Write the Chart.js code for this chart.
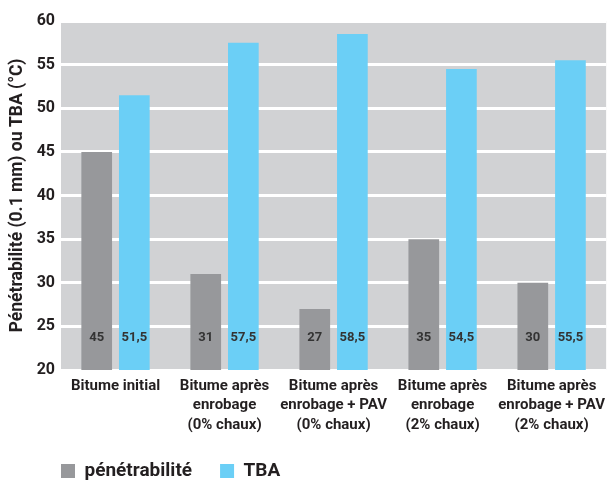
<!DOCTYPE html>
<html>
<head>
<meta charset="utf-8">
<script src="https://cdn.jsdelivr.net/npm/chart.js@4/dist/chart.umd.min.js"></script>
<style>
  html, body { margin: 0; padding: 0; background: #fff; }
  #wrap { width: 611px; height: 481px; }
</style>
</head>
<body>
<div id="wrap"><canvas id="chart"></canvas></div>
<script>
var categories = [
    'Bitume initial',
    ['Bitume après', 'enrobage', '(0% chaux)'],
    ['Bitume après', 'enrobage + PAV', '(0% chaux)'],
    ['Bitume après', 'enrobage', '(2% chaux)'],
    ['Bitume après', 'enrobage + PAV', '(2% chaux)']
];
var penetrabilite = [45, 31, 27, 35, 30];
var tba = [51.5, 57.5, 58.5, 54.5, 55.5];
var tbaLabels = ['51,5', '57,5', '58,5', '54,5', '55,5'];
var penLabels = ['45', '31', '27', '35', '30'];

var FONT = 'Roboto, "Open Sans", sans-serif';
var TEXT = '#231f20';
var LEGEND_SIZE = 19;

// grey plot background behind the grid
var plotBackground = {
    id: 'plotBackground',
    beforeDraw: function (chart) {
        var a = chart.chartArea;
        var ctx = chart.ctx;
        ctx.save();
        ctx.fillStyle = '#d1d2d4';
        ctx.fillRect(a.left, a.top, a.right - a.left, a.bottom - a.top);
        ctx.restore();
    }
};

// value labels near the bottom of each bar
var barLabels = {
    id: 'barLabels',
    afterDatasetsDraw: function (chart) {
        var ctx = chart.ctx;
        var yScale = chart.scales.y;
        var texts = [penLabels, tbaLabels];
        ctx.save();
        ctx.font = 'bold 13px ' + FONT;
        ctx.fillStyle = '#333333';
        ctx.textAlign = 'center';
        ctx.textBaseline = 'middle';
        chart.data.datasets.forEach(function (ds, i) {
            chart.getDatasetMeta(i).data.forEach(function (bar, j) {
                ctx.fillText(texts[i][j], bar.x, yScale.getPixelForValue(20) - 32);
            });
        });
        ctx.restore();
    }
};

// push the legend to the left under the plot
var legendPlace = {
    id: 'legendPlace',
    afterLayout: function (chart) {
        var lg = chart.legend;
        var pad = lg.options.labels.padding;
        lg.left = chart.chartArea.left - pad;
        lg.top = 464 - pad - (LEGEND_SIZE - 14) / 2;
    }
};

new Chart(document.getElementById('chart'), {
    type: 'bar',
    data: {
        labels: categories,
        datasets: [{
            label: 'pénétrabilité',
            data: penetrabilite,
            backgroundColor: '#97989b'
        }, {
            label: 'TBA',
            data: tba,
            backgroundColor: '#6bcff6'
        }]
    },
    options: {
        responsive: true,
        maintainAspectRatio: false,
        animation: false,
        layout: { padding: { top: 21, right: 0, left: 0, bottom: -16.5 } },
        datasets: {
            bar: { categoryPercentage: 0.69, barPercentage: 0.816 }
        },
        plugins: {
            tooltip: { enabled: false },
            legend: {
                position: 'bottom',
                align: 'start',
                labels: {
                    boxWidth: 14,
                    boxHeight: 14,
                    padding: 28,
                    color: TEXT,
                    font: { family: FONT, size: LEGEND_SIZE, weight: 'bold' }
                }
            }
        },
        scales: {
            x: {
                grid: { display: false, drawTicks: false },
                border: { display: false },
                ticks: {
                    color: TEXT,
                    padding: 6,
                    maxRotation: 0,
                    autoSkip: false,
                    font: { family: FONT, size: 15, weight: 'bold', lineHeight: 1.3 }
                }
            },
            y: {
                min: 20,
                max: 60,
                ticks: {
                    stepSize: 5,
                    color: TEXT,
                    padding: 6,
                    font: { family: FONT, size: 16, weight: 'bold' }
                },
                grid: { color: '#ffffff', lineWidth: 3, drawTicks: false },
                border: { display: false },
                title: {
                    display: true,
                    text: 'Pénétrabilité (0.1 mm) ou TBA (°C)',
                    color: TEXT,
                    padding: { top: 7, bottom: 0 },
                    font: { family: FONT, size: 17.5, weight: 'bold' }
                },
                afterFit: function (axis) { axis.width = 61; }
            }
        }
    },
    plugins: [plotBackground, barLabels, legendPlace]
});
</script>
</body>
</html>
